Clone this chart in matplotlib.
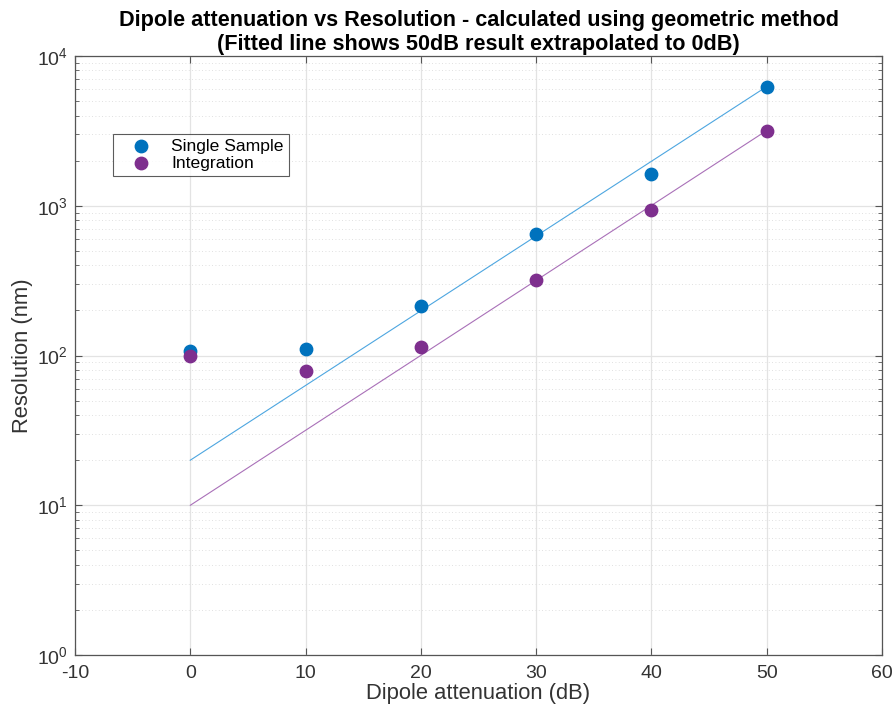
import matplotlib
matplotlib.use("Agg")
import matplotlib.pyplot as plt
from matplotlib.ticker import LogLocator, NullFormatter, MultipleLocator

plt.rcParams['font.family'] = ['Liberation Sans', 'DejaVu Sans']
plt.rcParams['mathtext.fontset'] = 'custom'
plt.rcParams['mathtext.rm'] = 'Liberation Sans'
plt.rcParams['mathtext.it'] = 'Liberation Sans:italic'
plt.rcParams['axes.unicode_minus'] = False

attenuation = [0, 10, 20, 30, 40, 50]
single_sample = [107, 110, 215, 645, 1640, 6250]
integration = [100, 79, 114, 318, 935, 3180]

# fitted lines: 50dB result extrapolated back to 0dB
fit_x = [0, 50]
fit_single = [20, 6250]
fit_integration = [10, 3180]

blue = '#0072BD'
purple = '#7E2F8E'
dark = '#333333'

fig = plt.figure(figsize=(8.92, 7.06), dpi=100)
ax = fig.add_axes([0.0841, 0.0722, 0.9047, 0.8485])

ax.plot(fit_x, fit_single, color='#4DA6E0', lw=0.8, zorder=2)
ax.plot(fit_x, fit_integration, color='#A970B8', lw=0.8, zorder=2)
ax.scatter(attenuation, single_sample, s=80, color=blue, label='Single Sample', zorder=3)
ax.scatter(attenuation, integration, s=80, color=purple, label='Integration', zorder=3)

ax.set_yscale('log')
ax.set_xlim(-10, 60)
ax.set_ylim(1, 1e4)
ax.xaxis.set_major_locator(MultipleLocator(10))
ax.yaxis.set_major_locator(LogLocator(base=10, numticks=10))
ax.yaxis.set_minor_locator(LogLocator(base=10, subs=range(2, 10), numticks=20))
ax.yaxis.set_minor_formatter(NullFormatter())

ax.grid(True, which='major', color='#e3e3e3', lw=0.9, zorder=0)
ax.grid(True, which='minor', axis='y', color='#d6d6d6', lw=0.6, ls=(0, (1, 3)), zorder=0)
ax.set_axisbelow(True)

ax.tick_params(which='both', direction='in', top=True, right=True, color='#555555',
               labelsize=14, labelcolor=dark)
ax.tick_params(axis='x', which='major', pad=7)
ax.tick_params(axis='y', which='major', pad=5)
ax.tick_params(which='major', length=5)
ax.tick_params(which='minor', length=3)
for s in ax.spines.values():
    s.set_color('#555555')
    s.set_linewidth(0.9)

ax.set_xlabel('Dipole attenuation (dB)', fontsize=15.8, color=dark, labelpad=1)
ax.set_ylabel('Resolution (nm)', fontsize=15.8, color=dark, labelpad=3)
ax.set_title('Dipole attenuation vs Resolution - calculated using geometric method\n'
             '(Fitted line shows 50dB result extrapolated to 0dB)',
             fontsize=15.6, fontweight='bold', pad=4, linespacing=1.2)

leg = ax.legend(loc='upper left', bbox_to_anchor=(0.047, 0.87), fontsize=12.6,
                frameon=True, fancybox=False, edgecolor=dark, borderpad=0.28,
                handlelength=2.7, handletextpad=0.35, labelspacing=0.1,
                borderaxespad=0, scatterpoints=1)
leg.get_frame().set_linewidth(0.8)

fig.savefig('out.png', dpi=100)
